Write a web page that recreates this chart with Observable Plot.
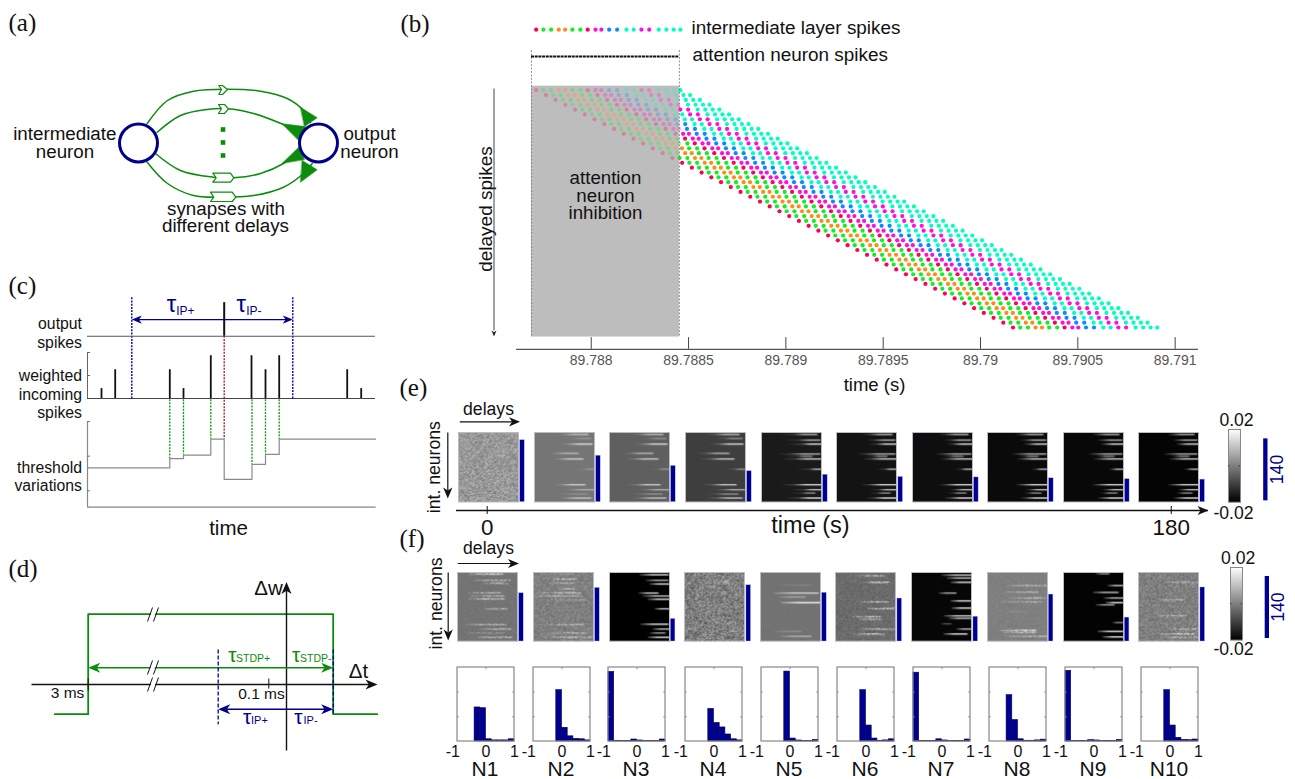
<!DOCTYPE html>
<html><head><meta charset="utf-8">
<script src="https://cdn.jsdelivr.net/npm/d3@7"></script>
<script src="https://cdn.jsdelivr.net/npm/@observablehq/plot@0.6"></script>
<style>html,body{margin:0;padding:0;background:#fff}#root{position:relative;width:1295px;height:779px;overflow:hidden}</style>
</head><body><div id="root"></div>
<script>
const SANS = "Liberation Sans", SERIF = "Liberation Serif";
const GREEN = "#0c8c0c", NAVY = "#00008c", INK = "#111";

// ---------- panel (b): spike raster ----------
const spikeTimes = [89.787717,89.787754,89.787794,89.787833,89.787866,89.787903,89.787944,89.787982,89.788022,89.788052,89.788092,89.788133,89.788181,89.788218,89.788258,89.788298,89.788347,89.788386,89.788424,89.788458];
const spikeColors = ["#ff0055","#10f020","#10f020","#ff8c1a","#ff8c1a","#10f020","#10f020","#ff0060","#ff10d8","#ff10d8","#0a8cff","#0a8cff","#00ffc8","#00ffc8","#ff10e0","#ff10e0","#00ffc0","#00ffc0","#00ffc0","#00ffc0"];
const delayRows = d3.range(50);
const delayStep = 0.00005;
const bTicks = [89.788,89.7885,89.789,89.7895,89.79,89.7905,89.791];
const bTickLabels = ["89.788","89.7885","89.789","89.7895","89.79","89.7905","89.791"];
const inhibitionStart = 89.787693, inhibitionEnd = 89.788453;

// ---------- panel (c) ----------
const cSpikeT = [101,114.7,169.3,183,210.3,251,265,278.7,346.7,360.7];
const cWeights = [0.43,1.25,1.25,0.43,1.86,1.86,1.25,1.86,1.25,0.43];
const cOutputT = 223.7;
const cThreshT = [87,169.3,183,210.3,223.7,251.5,265,278.7,375];
const cThreshV = [0.66,0.93,1.03,1.49,0.33,0.76,1.05,1.49,1.49];
const cWindow = [131.3,292.3];

// ---------- histograms ----------
const histBins = d3.range(10);
const histN1 = [0,0,0,.46,.45,.03,.015,.015,.015,.03];
const histN2 = [0,0,0,0,.694,.185,.07,.036,.03,.015];
const histN3 = [.94,.01,.005,.005,.027,.014,.005,.005,.005,.027];
const histN4 = [0,0,0,0,.44,.25,.19,.095,.03,.015];
const histN5 = [0,0,0,0,.945,.04,.014,.005,.005,.02];
const histN6 = [0,0,0,0,.694,.216,.04,.01,.015,.03];
const histN7 = [.93,.005,.005,.005,.03,.014,.005,.005,.005,.027];
const histN8 = [0,0,0,.626,.29,.03,.01,.01,.015,.025];
const histN9 = [.955,.005,.005,.005,.018,.014,.005,.005,.005,.022];
const histN10 = [0,0,0,0,.694,.216,.05,.022,.018,.027];
const histAll = [histN1,histN2,histN3,histN4,histN5,histN6,histN7,histN8,histN9,histN10];
const neuronNames = ["N1","N2","N3","N4","N5","N6","N7","N8","N9","N10"];

// ---------- panels (e) (f): weights ----------
const eCounts = [140,105,82,70,62,57,56,54,52,51];
const fCounts = [109,121,51,127,110,97,56,106,54,122];
const eBase = [.004,-.0016,-.0051,-.0103,-.016,-.017,-.0178,-.0184,-.0188,-.0194];
const eNoise = [.0048,0,0,0,0,0,0,0,0,0];
const eGlow = [0,6,8,10,14,8,6,5,4,3];
const eEarly = [[2,29,53,.012],[6,38,56,.004],[11.7,33,57,.016],[21,20,43,.01],[26.7,24,48,.014],[37,48,60,.004],[52.7,26,50,.014],[57.7,36,59,.008],[62,30,52,.003],[66,30,56,.012]];
const eLate = [[2,32,55,.012],[7.7,37,58,.01],[11.7,40,60,.018],[21.7,28,58,.01],[24,36,50,.004],[26.7,33,60,.016],[37,48,60,.012],[52.7,32,60,.018],[57.7,42,60,.012],[61,40,53,.004],[66,37,60,.018]];
const eStreaks = [[],eEarly,eEarly,eEarly,eLate,eLate,eLate,eLate,eLate,eLate];
const fBase = [-.0018,.0,-.02,.0,-.002,-.0032,-.019,0,-.0195,.0];
const fNoise = [.0008,.0028,0,.0065,.0004,.002,0,.001,0,.0036];
const fDotted = [1,1,0,1,0,1,0,1,0,1];
const fStreaks = [
 [[1.7,10,45,.018],[8,16,53,.012],[11,26,50,.012],[20.7,10,43,.01],[24,11,46,.01],[27,11,46,.014],[37,25,50,.012],[53,8,48,.012],[57.7,21,53,.012],[61.7,8,46,.005],[66,20,53,.014]],
 [[1.7,7,40,.006],[6.7,10,43,.012],[11,14,40,.01],[16.7,24,40,.01],[20.7,3,47,.012],[24,0,47,.012],[28,10,53,.006],[53,7,50,.01],[61.7,14,53,.01],[66,10,57,.012]],
 [[2.3,30,58,.02],[8,36,58,.012],[11.7,40,60,.018],[21,29,48,.016],[24,33,60,.014],[27.3,38,60,.02],[37,45,60,.014],[52.7,31,58,.02],[57.7,43,60,.014],[61.7,40,55,.008],[66,38,60,.02]],
 [[10,32,45,.012],[20,20,40,.006],[35,38,55,.006],[60,40,55,.006]],
 [[13,20,50,.001],[21,13,57,.014],[25,18,44,.007],[30.7,20,60,.02],[60,14,40,.003],[65,20,50,.009]],
 [[3.3,22,48,.012],[10,27,53,.016],[30,23,52,.014],[36.7,30,58,.018],[45,15,45,.012],[47.7,22,45,.012],[57.7,22,58,.012],[62.7,15,48,.014]],
 [[2.7,30,60,.016],[5.7,35,59,.014],[10,39,60,.02],[21,27,44,.01],[29,39,59,.018],[36.3,40,60,.02],[44.3,32,60,.016],[46.7,37,59,.014],[52.3,29,39,-.006],[57.7,45,60,.012],[62.7,32,55,.02]],
 [[13.3,20,60,.012],[20,17,50,.01],[26,20,57,.012],[30,13,53,.01],[40,17,40,.003],[59,13,48,.018],[61,15,48,.014],[65,17,60,.012]],
 [[1.3,32,45,.006],[13.3,44,60,.016],[20.3,29,54,.014],[26,40,60,.012],[30.7,42,59,.02],[33,32,50,.008],[51,49,59,.004],[60,34,59,.02],[65.7,39,60,.02]],
 [[10,27,58,.012],[28,20,45,.012],[44,17,48,.012],[57.7,30,58,.012],[62.7,18,55,.016],[66,25,58,.012]]
];
// hand-typed grain tile for the noisy weight maps
const grainTile = ["3a7c19e40b6d28f5a17c3e9","c15e82f7a03d96b41e7582a","6f0b93d2c7e418a5f03c6d1","a84e17c05bf2639d7a1e40c","2d96f3a81c7e05b4d92f6a8","e7013cb5942fa68d01c7e35","49d6a08f37ce125b8f4a06d","b3f15e7c20a9d84632ef719","08c74a9d6e13fb25c70d9a4","f5a2d618b3047ec9a16f382","71e90c4fa52d86b3e09d7c5","dc3876b1e9f4025a73c18ef","2a5f1d0e8c73b9646de2a07","96c04be371fa58d20b94f6c","e13da7825c06f94ba8371d5","5b08f6c49d2e17a3f6c05e9","c7e92a13b6f08d45127ba3f"];
const grain = grainTile.map(s => Array.from(s, c => parseInt(c, 16)));

// ---------- layout ----------
const eLeft = [458,534,609,685,761,836.3,912,987,1063,1138.3];
const fLeft = [457,533,608.7,684.3,760,835.3,911.3,986.7,1062.7,1138.3];
const histLeft = [457.3,533.3,608.3,684.7,760.7,836.7,912.7,989.3,1065.3,1141.3];

// ---------- schematic geometry (panel a, d) ----------
const aArcs = [
 [[146.7,123],[167,100],[193,90.7],[226.7,88.7],[260,90.7],[286.7,98],[303,110],[310,122]],
 [[156.7,131.7],[180,115],[206.7,109],[226.7,108.3],[253,113],[283,124],[303,133]],
 [[155,153],[180,170],[213,176.7],[233,177.3],[260,173],[283,163],[300,150]],
 [[146.7,161.7],[167,183],[193,195],[220,196.7],[253,195],[283,186.7],[303,173],[311.7,163]]];
const aHeads = [
 [[300,106.7],[316.7,117.3],[304,126]],
 [[281.7,123.3],[305,126],[298.3,140]],
 [[281.7,162.7],[298.3,146.7],[304,159]],
 [[301.7,160],[316.7,169.3],[300,181.7]]];
const aDelays = [
 [[218.3,85],[222,85],[227,89],[222,94],[218.3,94],[221,89]],
 [[218,104],[224,104],[228,108.3],[224,113],[218,113],[221,108.3]],
 [[212.3,172.7],[230,172.7],[233.3,177.3],[230,181.7],[212.3,181.7],[215.7,177.3]],
 [[210,191.7],[231.7,191.7],[235.3,196.7],[231.7,201],[210,201],[213.3,196.7]]];
const aNeurons = [[138,142.5],[318,142.5]];
const aEllipsis = [[222.5,129],[222.5,142],[222.5,155]];
const dPulse = [[54.3,713.7],[87.7,713.7],[87.7,613.7],[332.7,613.7],[332.7,713.7],[376.7,713.7]];

const root = document.getElementById("root");
const barb = {draw(ctx, size) {
  const L = Math.sqrt(size / Math.PI);
  ctx.moveTo(0, 0); ctx.lineTo(-0.42 * L, L); ctx.lineTo(0, 0.72 * L); ctx.lineTo(0.42 * L, L); ctx.closePath();
}};
const seg = (list, o) => Plot.link(list, {x1: d => d[0], y1: d => d[1], x2: d => d[2], y2: d => d[3], ...o});
const head = (list, r, fill) => Plot.dot(list, {x: d => d[0], y: d => d[1], rotate: d => d[2], symbol: barb, r, fill, stroke: "none"});
const txt = (list, fontSize, o = {}) => Plot.text(list, {text: d => d[0], x: d => d[1], y: d => d[2], fontSize, fontFamily: SANS, lineAnchor: "middle", fill: INK, ...o});
const poly = (pts, o) => Plot.line(pts, {x: d => d[0], y: d => d[1], curve: "linear-closed", ...o});

function P(left, top, w, h, xd, yd, marks, extra = {}) {
  const {xRange, yRange, ...rest} = extra;
  const svg = Plot.plot({width: w, height: h, margin: 0,
    x: {domain: xd, axis: null, ...(xRange ? {range: xRange} : {})},
    y: {domain: yd, axis: null, ...(yRange ? {range: yRange} : {})},
    color: {type: "linear", domain: [-0.02, 0.02], range: ["black", "white"]},
    marks, ...rest});
  Object.assign(svg.style, {position: "absolute", left: left + "px", top: top + "px", width: w + "px", height: h + "px", maxWidth: "none", background: "transparent", overflow: "visible", fontFamily: SANS});
  root.append(svg);
  return svg;
}

// ---------- figure layer: panels a, d and annotations ----------
P(0, 0, 1295, 779, [0, 1295], [779, 0], [
  // panel letters
  Plot.text([["(a)",8,22],["(b)",400,23],["(c)",8,285],["(d)",8,568],["(e)",399,387],["(f)",399,538]], {text: d => d[0], x: d => d[1], y: d => d[2], fontFamily: SERIF, fontSize: 25, textAnchor: "start", lineAnchor: "middle", fill: INK}),
  // panel a
  ...aArcs.map(a => Plot.line(a, {x: d => d[0], y: d => d[1], curve: "catmull-rom", stroke: GREEN, strokeWidth: 1.5})),
  ...aHeads.map(a => poly(a, {fill: GREEN, stroke: GREEN, strokeWidth: 0.5})),
  ...aDelays.map(a => poly(a, {fill: "white", stroke: GREEN, strokeWidth: 1.2})),
  Plot.dot(aEllipsis, {x: d => d[0], y: d => d[1], symbol: "square", r: 2.6, fill: GREEN}),
  Plot.dot(aNeurons, {x: d => d[0], y: d => d[1], r: 19, fill: "white", stroke: NAVY, strokeWidth: 3}),
  txt([["intermediate",64.3,133],["neuron",64.5,151],["output",369,133],["neuron",369,151],["synapses with",225.5,208],["different delays",225,225]], 18.8),
  // panel b annotations
  txt([["intermediate layer spikes",691,27],["attention neuron spikes",692,54]], 18.9, {textAnchor: "start"}),
  txt([["delayed spikes",485,208.5]], 19, {rotate: -90}),
  seg([[493.5,88,493.5,330]], {stroke: "#444", strokeWidth: 1}),
  head([[493.5,336,180]], 6, "#222"),
  txt([["time (s)",874,385]], 18.5),
  // panel c labels
  txt([["output",81.5,323],["spikes",81.5,342],["weighted",81.5,375],["incoming",81.5,394],["spikes",81.5,412],["threshold",81.5,467],["variations",81.5,485]], 15.8, {textAnchor: "end"}),
  txt([["time",228,528]], 20.5),
  txt([["\u03c4",171,304],["\u03c4",240.7,304]], 24, {fill: NAVY}),
  txt([["IP+",175.7,311],["IP-",245.7,311]], 12, {fill: NAVY, textAnchor: "start"}),
  // panel d
  Plot.line(dPulse, {x: d => d[0], y: d => d[1], stroke: GREEN, strokeWidth: 1.8}),
  seg([[31,684,372,684]], {stroke: "#111", strokeWidth: 1.4}),
  seg([[286,750,286,588]], {stroke: "#111", strokeWidth: 1.4}),
  head([[377,684,90]], 12, "#111"),
  head([[286,581.5,0]], 12, "#111"),
  seg([[93,667.3,327,667.3]], {stroke: GREEN, strokeWidth: 1.4}),
  head([[87.7,667.3,270],[332.7,667.3,90]], 12, GREEN),
  seg([[222,708.7,328,708.7]], {stroke: NAVY, strokeWidth: 1.4}),
  head([[217.7,708.7,270],[332.7,708.7,90]], 12, NAVY),
  seg([[217.7,649,217.7,723.7],[332.7,649,332.7,713]], {stroke: NAVY, strokeWidth: 1.3, strokeDasharray: "4 2"}),
  seg([[87.7,678,87.7,690],[268.3,678,268.3,688]], {stroke: "#111", strokeWidth: 1}),
  seg([[150,620,155,607],[150,673,155,660],[150,691,155,677]], {stroke: "white", strokeWidth: 4}),
  seg([[147,621,152,607],[153,621,158,607],[147,674,152,660],[153,674,158,660],[147,691,152,677],[153,691,158,677]], {stroke: "#111", strokeWidth: 1}),
  txt([["3 ms",67,693],["0.1 ms",261,694]], 15.5),
  txt([["\u0394w",268,588],["\u0394t",358,671]], 20.5),
  txt([["\u03c4",232,655],["\u03c4",295.7,655]], 21, {fill: GREEN}),
  txt([["STDP+",235.5,658],["STDP-",299.5,658]], 10.5, {fill: GREEN, textAnchor: "start"}),
  txt([["\u03c4",246.7,717],["\u03c4",298,717]], 21, {fill: NAVY}),
  txt([["IP+",250.5,720],["IP-",303,720]], 11, {fill: NAVY, textAnchor: "start"}),
  // panels e, f annotations
  txt([["delays",488,409],["delays",488,548]], 17.6),
  txt([["int. neurons",434,466.7],["int. neurons",435.7,603]], 17.6, {rotate: -90}),
  seg([[459.3,421.3,513,421.3],[457.3,563,512,563]], {stroke: "#111", strokeWidth: 1.2}),
  head([[519.5,421.3,90],[518.5,563,90]], 11, "#111"),
  seg([[447.3,432,447.3,490],[447.7,572,447.7,632]], {stroke: "#111", strokeWidth: 1.2}),
  head([[447.3,498,180],[447.7,640,180]], 11, "#111"),
  txt([["time (s)",810,525]], 23.5),
  txt([["0.02",1236,420],["-0.02",1233,512.7],["0.02",1237.7,558],["-0.02",1233,649]], 17.6),
  txt([["140",1276.7,469],["140",1278,606.7]], 17.6, {rotate: -90, fill: NAVY})
]);

// ---------- panel b ----------
const cross = delayRows.flatMap(r => spikeTimes.map((t, i) => ({t: t + r * delayStep, r, c: spikeColors[i]})));
P(516, 0, 682, 395, [89.787616, 89.79112], [0, 49], [
  Plot.rect([0], {x1: inhibitionStart, x2: inhibitionEnd, y1: -0.83, y2: 50.97, fill: "#bdbdbd"}),
  Plot.dot(cross.filter(d => d.t <= inhibitionEnd), {x: "t", y: "r", r: 2.1, fill: "c", fillOpacity: 0.3}),
  Plot.dot(cross.filter(d => d.t > inhibitionEnd), {x: "t", y: "r", r: 2.1, fill: "c"}),
  Plot.ruleX([inhibitionStart, inhibitionEnd], {y1: -8.2, y2: 50.97, stroke: "#777", strokeWidth: 0.8, strokeDasharray: "2 1.5"}),
  Plot.ruleY([-6.96], {x1: inhibitionStart, x2: inhibitionEnd, stroke: "#111", strokeWidth: 2.2, strokeDasharray: "3 0.7"}),
  Plot.dot(spikeTimes, {x: d => d, y: -12.5, r: 2.1, fill: (d, i) => spikeColors[i]}),
  Plot.ruleY([53.5], {stroke: "#555", strokeWidth: 1.2}),
  Plot.ruleX(bTicks, {y1: 51.1, y2: 53.5, stroke: "#444", strokeWidth: 1}),
  Plot.text(bTicks, {x: d => d, y: 55.8, text: (d, i) => bTickLabels[i], fontSize: 14, fontFamily: SANS, fill: "#555"}),
  Plot.text(["attention","neuron","inhibition"], {x: 89.788073, y: (d, i) => [18.2, 21.75, 25.26][i], text: d => d, fontSize: 18.7, fontFamily: SANS, fill: INK})
], {yRange: [89.7, 327]});

// ---------- panel c ----------
P(87, 351.7, 288, 46, [87, 375], [0, 2], [
  Plot.ruleY([0], {stroke: "#444", strokeWidth: 1}),
  Plot.ruleX([87], {y1: 0, y2: 2, stroke: "#666", strokeWidth: 1}),
  Plot.ruleY([1, 2], {x1: 87, x2: 90, stroke: "#666", strokeWidth: 1}),
  Plot.ruleX(cSpikeT, {y1: 0, y2: (d, i) => cWeights[i], stroke: "#111", strokeWidth: 1.8})
]);
P(87, 420.7, 288.7, 85.6, [87, 375.7], [-0.47, 2], [
  Plot.ruleX([cWindow[0], cWindow[1]], {y1: 5.57, y2: 2.63, stroke: "#0000b0", strokeWidth: 1.4, strokeDasharray: "2 1.2"}),
  Plot.ruleY([4.46], {x1: 87, x2: 375, stroke: "#555", strokeWidth: 1}),
  Plot.ruleX([cOutputT], {y1: 4.46, y2: 5.43, stroke: "#111", strokeWidth: 2}),
  Plot.ruleX([cOutputT], {y1: 4.46, y2: 1.49, stroke: "#a01818", strokeWidth: 1.3, strokeDasharray: "2 1.2"}),
  Plot.ruleX(cThreshT.slice(1, 4).concat(cThreshT.slice(5, 8)), {y1: 2.63, y2: (d, i) => cThreshV.slice(1, 4).concat(cThreshV.slice(5, 8))[i], stroke: "#0a9a0a", strokeWidth: 1.3, strokeDasharray: "2 1.2"}),
  Plot.lineY(cThreshT.map((t, i) => [t, cThreshV[i]]), {x: d => d[0], y: d => d[1], curve: "step-after", stroke: "#8a8a8a", strokeWidth: 1.2}),
  Plot.ruleX([87], {y1: -0.47, y2: 2, stroke: "#888", strokeWidth: 1.2}),
  Plot.ruleY([-0.47], {stroke: "#666", strokeWidth: 1}),
  Plot.ruleY([0, 1, 2], {x1: 87, x2: 90, stroke: "#777", strokeWidth: 1}),
  Plot.ruleY([4.94], {x1: cWindow[0] + 5, x2: cWindow[1] - 5, stroke: NAVY, strokeWidth: 1.4}),
  head([[cWindow[0], 4.94, 270], [cWindow[1], 4.94, 90]], 10, NAVY)
]);

// ---------- weight maps ----------
function heat(base, noise, streaks, glow, dotted, off) {
  return (x, y) => {
    const ix = Math.floor(x) + off * 5, iy = Math.floor(y) + off * 3;
    const g = grain[iy % 17][ix % 23] ^ grain[(iy + (ix >> 2)) % 17][(ix * 3 + (iy >> 1)) % 23];
    const mask = dotted ? (g > 5 ? 1 : 0.3) : 1;
    let v = base + noise * (g - 7.5) / 7.5;
    for (const [row, s, e, w] of streaks) {
      const dy = y - row;
      if (Math.abs(dy) > 4) continue;
      const hx = x < s ? (glow ? 0.22 * Math.max(0, 1 - (s - x) / glow) : 0)
        : x > e ? Math.max(0, 1 - (x - e) / 2)
        : 0.2 + 0.8 * Math.min(1, (x - s) / ((e - s) * 0.45));
      v += (w - v) * Math.exp(-dy * dy / 0.55) * hx * mask;
    }
    return v;
  };
}
function mapRow(lefts, top, h, base, noise, streaks, glow, dotted) {
  lefts.forEach((l, i) => P(l, top, 60, h, [0, 60], [70, 0], [
    Plot.raster({x1: 0, x2: 60, y1: 0, y2: 70, fill: heat(base[i], noise[i], streaks[i], glow[i], dotted[i], i)}),
    Plot.frame({stroke: "#bcbcc8", strokeWidth: 1})
  ]));
}
mapRow(eLeft, 432, 69.5, eBase, eNoise, eStreaks, eGlow, eBase.map(() => 0));
mapRow(fLeft, 571.7, 68.7, fBase, fNoise, fStreaks, fBase.map(() => 0), fDotted);

// ---------- count bars ----------
function barRow(top, h, ymax, lefts, counts, dx, legendX, legendLow) {
  const items = counts.map((c, i) => ({x1: lefts[i] + dx, x2: lefts[i] + dx + 4.6, c}));
  P(0, top, 1295, h, [0, 1295], [0, ymax], [
    Plot.rectY(items, {x1: "x1", x2: "x2", y1: 0, y2: "c", fill: "#000090", stroke: "#b8b8e0", strokeWidth: 0.4}),
    Plot.rectY([140], {x1: legendX, x2: legendX + 4.3, y1: legendLow, y2: legendLow + 140, fill: "#000090"})
  ]);
}
barRow(432, 69.7, 157.4, eLeft, eCounts, 61.6, 1263.3, 3);
barRow(571.7, 69, 155.8, fLeft, fCounts, 61.6, 1264.7, 6.8);

// ---------- colour bars ----------
function colorBar(left, top, h) {
  P(left, top, 12, h, [0, 1], [-0.02, 0.02], [
    Plot.raster({x1: 0, x2: 1, y1: -0.02, y2: 0.02, fill: (x, y) => y}),
    Plot.frame({stroke: "#888", strokeWidth: 1}),
    Plot.ruleY([0], {x1: 0, x2: 0.12, stroke: "#333"}),
    Plot.ruleY([0], {x1: 0.88, x2: 1, stroke: "#333"})
  ]);
}
colorBar(1228.3, 429.3, 72.7);
colorBar(1229.7, 566.7, 72.6);

// ---------- time axis of panel e ----------
const timeTicks = [0, 180];
P(456, 504.7, 752, 36, [-8.08, 189.8], [5, -5], [
  Plot.ruleY([0], {stroke: "#111", strokeWidth: 1.3}),
  Plot.ruleX(timeTicks, {y1: -4, y2: 4, stroke: "#111", strokeWidth: 1}),
  Plot.text(timeTicks, {x: d => d, y: 17.7, text: d => String(d), fontSize: 22.4, fontFamily: SANS, fill: INK}),
  head([[189.8, 0, 90]], 11, "#111")
], {yRange: [10, 0]});

// ---------- histograms ----------
histAll.forEach((vals, n) => {
  P(histLeft[n] - 12, 666.7, 81, 112, [-1, 1], [0, 1], [
    Plot.rectY(histBins, {x1: b => -1 + b * 0.2, x2: b => -0.8 + b * 0.2, y1: 0, y2: b => vals[b], fill: "#000090", stroke: "#00004c", strokeWidth: 0.6}),
    Plot.rect([0], {x1: -1, x2: 1, y1: 0, y2: 1, fill: "none", stroke: "#888", strokeWidth: 1.2}),
    Plot.ruleY([1/3, 2/3], {x1: -1, x2: -0.94, stroke: "#888"}),
    Plot.ruleY([1/3, 2/3], {x1: 0.94, x2: 1, stroke: "#888"}),
    Plot.ruleX([0], {y1: 0.97, y2: 1, stroke: "#888"}),
    Plot.text(["-1"], {x: -1, y: -0.135, dx: -4.6, text: d => d, fontSize: 16, fontFamily: SANS, fill: INK}),
    Plot.text(["0"], {x: 0, y: -0.135, text: d => d, fontSize: 16, fontFamily: SANS, fill: INK}),
    Plot.text(["1"], {x: 1, y: -0.135, text: d => d, fontSize: 16, fontFamily: SANS, fill: INK}),
    Plot.text([neuronNames[n]], {x: 0, y: -0.37, dx: -1, text: d => d, fontSize: 21, fontFamily: SANS, fill: INK})
  ], {xRange: [12, 69], yRange: [74, 0]});
});
</script></body></html>
